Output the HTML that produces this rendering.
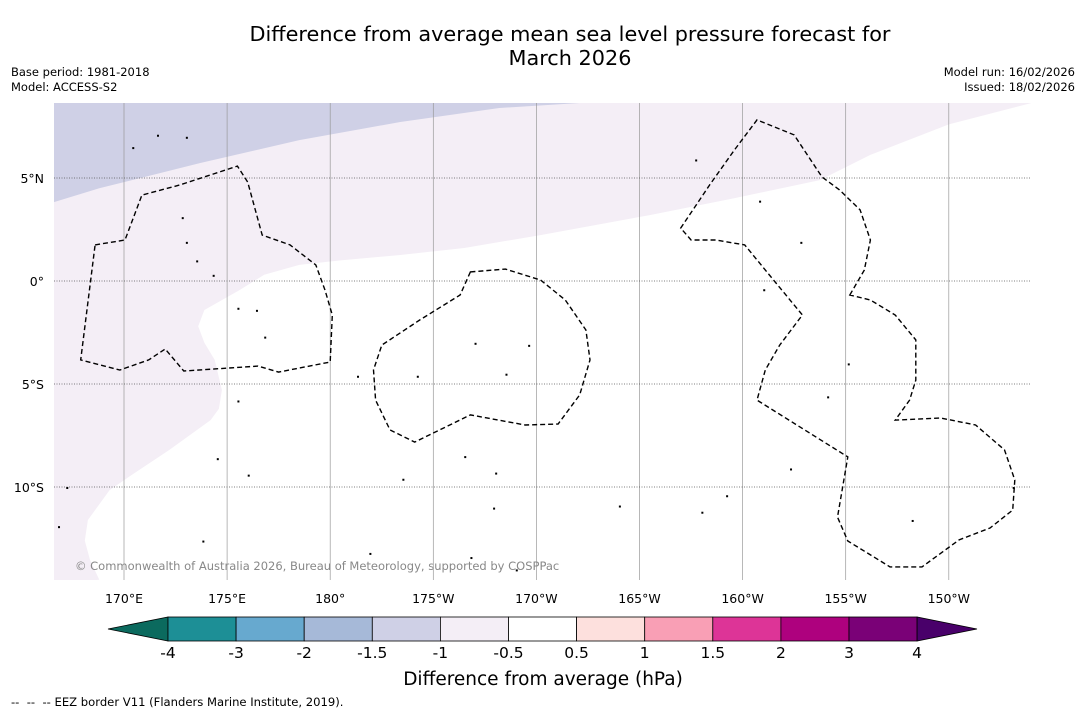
<!DOCTYPE html>
<html><head><meta charset="utf-8">
<style>
body{margin:0;background:#fff;font-family:"DejaVu Sans","Liberation Sans",sans-serif;}
#wrap{position:relative;width:1085px;height:713px;overflow:hidden;background:#fff;}
.t{position:absolute;white-space:nowrap;color:#000;}
svg text{font-family:"DejaVu Sans","Liberation Sans",sans-serif;}
</style></head>
<body>
<div id="wrap">
<div class="t" style="left:0;width:1140px;top:22px;text-align:center;font-size:20.8px;line-height:24px;">Difference from average mean sea level pressure forecast for<br>March 2026</div>
<div class="t" style="left:11px;top:65px;font-size:11.5px;line-height:15px;">Base period: 1981-2018<br>Model: ACCESS-S2</div>
<div class="t" style="right:10px;top:65px;font-size:11.5px;line-height:15px;text-align:right;">Model run: 16/02/2026<br>Issued: 18/02/2026</div>
<svg id="svg" width="1085" height="713" style="position:absolute;left:0;top:0"></svg>
<div class="t" style="left:11px;top:695px;font-size:11.6px;">--&nbsp; --&nbsp; -- EEZ border V11 (Flanders Marine Institute, 2019).</div>
</div>
<script>
const lonTicks=[170,175,180,185,190,195,200,205,210];
const lonLabels=["170°E","175°E","180°","175°W","170°W","165°W","160°W","155°W","150°W"];
const latTicks=[5,0,-5,-10];
const latLabels=["5°N","0°","5°S","10°S"];
const cbLevels=["-4","-3","-2","-1.5","-1","-0.5","0.5","1","1.5","2","3","4"];
const cbColors=["#1d8f96","#67a9cf","#a6b9d8","#cfd0e6","#f4eef6","#ffffff","#fde0dd","#f99fb5","#dd3497","#ae017e","#7a0177"];
const cbLow="#0b6a5e", cbHigh="#49006a";
const paleBoundary=[[214.0,8.64],[210.0,7.6],[206.2,6.12],[203.75,4.9],[199.5,4.0],[195.5,3.2],[190.2,2.23],[186.5,1.6],[183.4,1.26],[180.5,1.0],[178.5,0.78],[176.8,0.3],[175.6,-0.44],[173.9,-1.41],[173.6,-2.2],[173.9,-3.0],[174.4,-3.83],[174.75,-5.29],[174.6,-6.2],[174.2,-6.75],[172.2,-8.2],[170.4,-9.4],[169.3,-10.15],[168.25,-11.6],[168.1,-12.6],[168.35,-13.54],[168.8,-14.5]];
const darkBoundary=[[166.6,3.83],[168.8,4.5],[173.7,5.73],[178.5,6.84],[183.4,7.72],[188.2,8.4],[192.1,8.64]];
const eez1=[[168.6,1.75],[170.05,1.99],[170.87,4.17],[172.7,4.66],[175.5,5.58],[176.0,4.8],[176.7,2.23],[178.05,1.75],[179.3,0.78],[179.75,-0.44],[180.1,-1.65],[180.0,-3.93],[177.5,-4.42],[176.5,-4.13],[172.9,-4.37],[172.0,-3.3],[171.2,-3.83],[169.8,-4.32],[167.9,-3.83]];
const eez2=[[186.8,0.44],[188.5,0.58],[190.2,0.05],[191.4,-0.92],[192.4,-2.38],[192.6,-3.83],[192.1,-5.53],[191.05,-6.94],[189.45,-6.99],[186.8,-6.5],[184.1,-7.82],[182.9,-7.23],[182.2,-5.78],[182.1,-4.32],[182.5,-3.11],[184.35,-1.89],[186.3,-0.68]];
const eez3=[[205.2,-0.68],[205.9,0.53],[206.2,1.99],[205.7,3.45],[204.7,4.42],[203.85,5.05],[202.5,7.09],[200.7,7.82],[199.6,6.36],[198.4,4.66],[197.0,2.57],[197.5,1.99],[198.7,1.99],[200.1,1.75],[201.3,0.29],[202.9,-1.65],[201.8,-3.11],[201.1,-4.32],[200.7,-5.78],[205.1,-8.54],[204.6,-11.46],[205.1,-12.62],[207.15,-13.88],[208.7,-13.88],[210.5,-12.57],[212.0,-11.99],[213.1,-11.12],[213.2,-9.66],[212.7,-8.2],[211.3,-6.99],[209.6,-6.65],[207.4,-6.75],[208.1,-5.78],[208.4,-4.81],[208.4,-2.86],[207.4,-1.65],[206.2,-0.92]];
const islands=[[170.4,6.5],[171.6,7.1],[173.0,7.0],[172.8,3.1],[173.0,1.9],[173.5,1.0],[174.3,0.3],[175.5,-1.3],[176.4,-1.4],[176.8,-2.7],[181.3,-4.6],[184.2,-4.6],[187.0,-3.0],[188.5,-4.5],[189.6,-3.1],[197.7,5.9],[200.8,3.9],[202.8,1.9],[201.0,-0.4],[204.1,-5.6],[202.3,-9.1],[199.2,-10.4],[205.1,-4.0],[213.1,-10.0],[208.2,-11.6],[186.5,-8.5],[188.0,-9.3],[187.9,-11.0],[183.5,-9.6],[181.9,-13.2],[176.0,-9.4],[174.5,-8.6],[167.2,-10.0],[166.8,-11.9],[173.8,-12.6],[186.8,-13.4],[189.0,-14.0],[194.0,-10.9],[198.0,-11.2],[175.5,-5.8]];
const svg=document.getElementById('svg');const NS='http://www.w3.org/2000/svg';
const L=54,R=1031,T=103,B=580;
function px(lon){return 124+(lon-170)*20.62;}
function py(lat){return 281-lat*20.6;}
function mk(tag,attrs,parent){const e=document.createElementNS(NS,tag);for(const k in attrs)e.setAttribute(k,attrs[k]);(parent||svg).appendChild(e);return e;}
function pts(a){return a.map(p=>px(p[0]).toFixed(1)+','+py(p[1]).toFixed(1)).join(' ');}
const defs=mk('defs',{});const cp=mk('clipPath',{id:'mc'},defs);mk('rect',{x:L,y:T,width:R-L,height:B-T},cp);
const g=mk('g',{'clip-path':'url(#mc)'});


let pale=mk('polygon',{points:pts(paleBoundary)+` ${L-5},${B+5} ${L-5},${T-5} ${R+5},${T-5}`,fill:'#f4eef6'},g);


let dark=mk('polygon',{points:pts(darkBoundary)+` ${L-5},${T-5}`,fill:'#cfd0e6'},g);


lonTicks.forEach((lon,i)=>{let l=mk('line',{x1:px(lon),x2:px(lon),y1:T,y2:B,stroke:'#999','stroke-width':0.7},g);


let t=mk('text',{x:px(lon),y:603,'text-anchor':'middle','font-size':12.5,fill:'#000'});t.textContent=lonLabels[i];

});
latTicks.forEach((lat,i)=>{let l=mk('line',{x1:L,x2:R,y1:py(lat),y2:py(lat),stroke:'#555','stroke-width':0.7,'stroke-dasharray':'1,1.5'},g);


let t=mk('text',{x:44,y:py(lat)+5,'text-anchor':'end','font-size':12.5,fill:'#000'});t.textContent=latLabels[i];

});
[eez1,eez2,eez3].forEach(a=>{let p=mk('polygon',{points:pts(a),fill:'none',stroke:'#000','stroke-width':1.4,'stroke-dasharray':'5,3'},g);

});
islands.forEach(a=>{let c=mk('rect',{x:px(a[0]),y:py(a[1]),width:2,height:2,fill:'#000'},g);

});
let cr=mk('text',{x:75,y:570,'font-size':11.5,fill:'#888'},g);cr.textContent='© Commonwealth of Australia 2026, Bureau of Meteorology, supported by COSPPac';


const cx0=168,cw=68.1,cy=617,ch=24;
let lt=mk('polygon',{points:`${cx0},${cy} ${cx0},${cy+ch} 108,${cy+ch/2}`,fill:cbLow,stroke:'#000','stroke-width':0.8});


cbColors.forEach((c,i)=>{let r=mk('rect',{x:cx0+i*cw,y:cy,width:cw,height:ch,fill:c,stroke:'#000','stroke-width':0.8});

});
const cx1=cx0+cbColors.length*cw;
let rt=mk('polygon',{points:`${cx1},${cy} ${cx1},${cy+ch} 977,${cy+ch/2}`,fill:cbHigh,stroke:'#000','stroke-width':0.8});


cbLevels.forEach((v,i)=>{let t=mk('text',{x:cx0+i*cw,y:658,'text-anchor':'middle','font-size':15.5,fill:'#000'});t.textContent=v;

});
let ct=mk('text',{x:543,y:685,'text-anchor':'middle','font-size':18.5,fill:'#000'});ct.textContent='Difference from average (hPa)';


</script>
</body></html>
